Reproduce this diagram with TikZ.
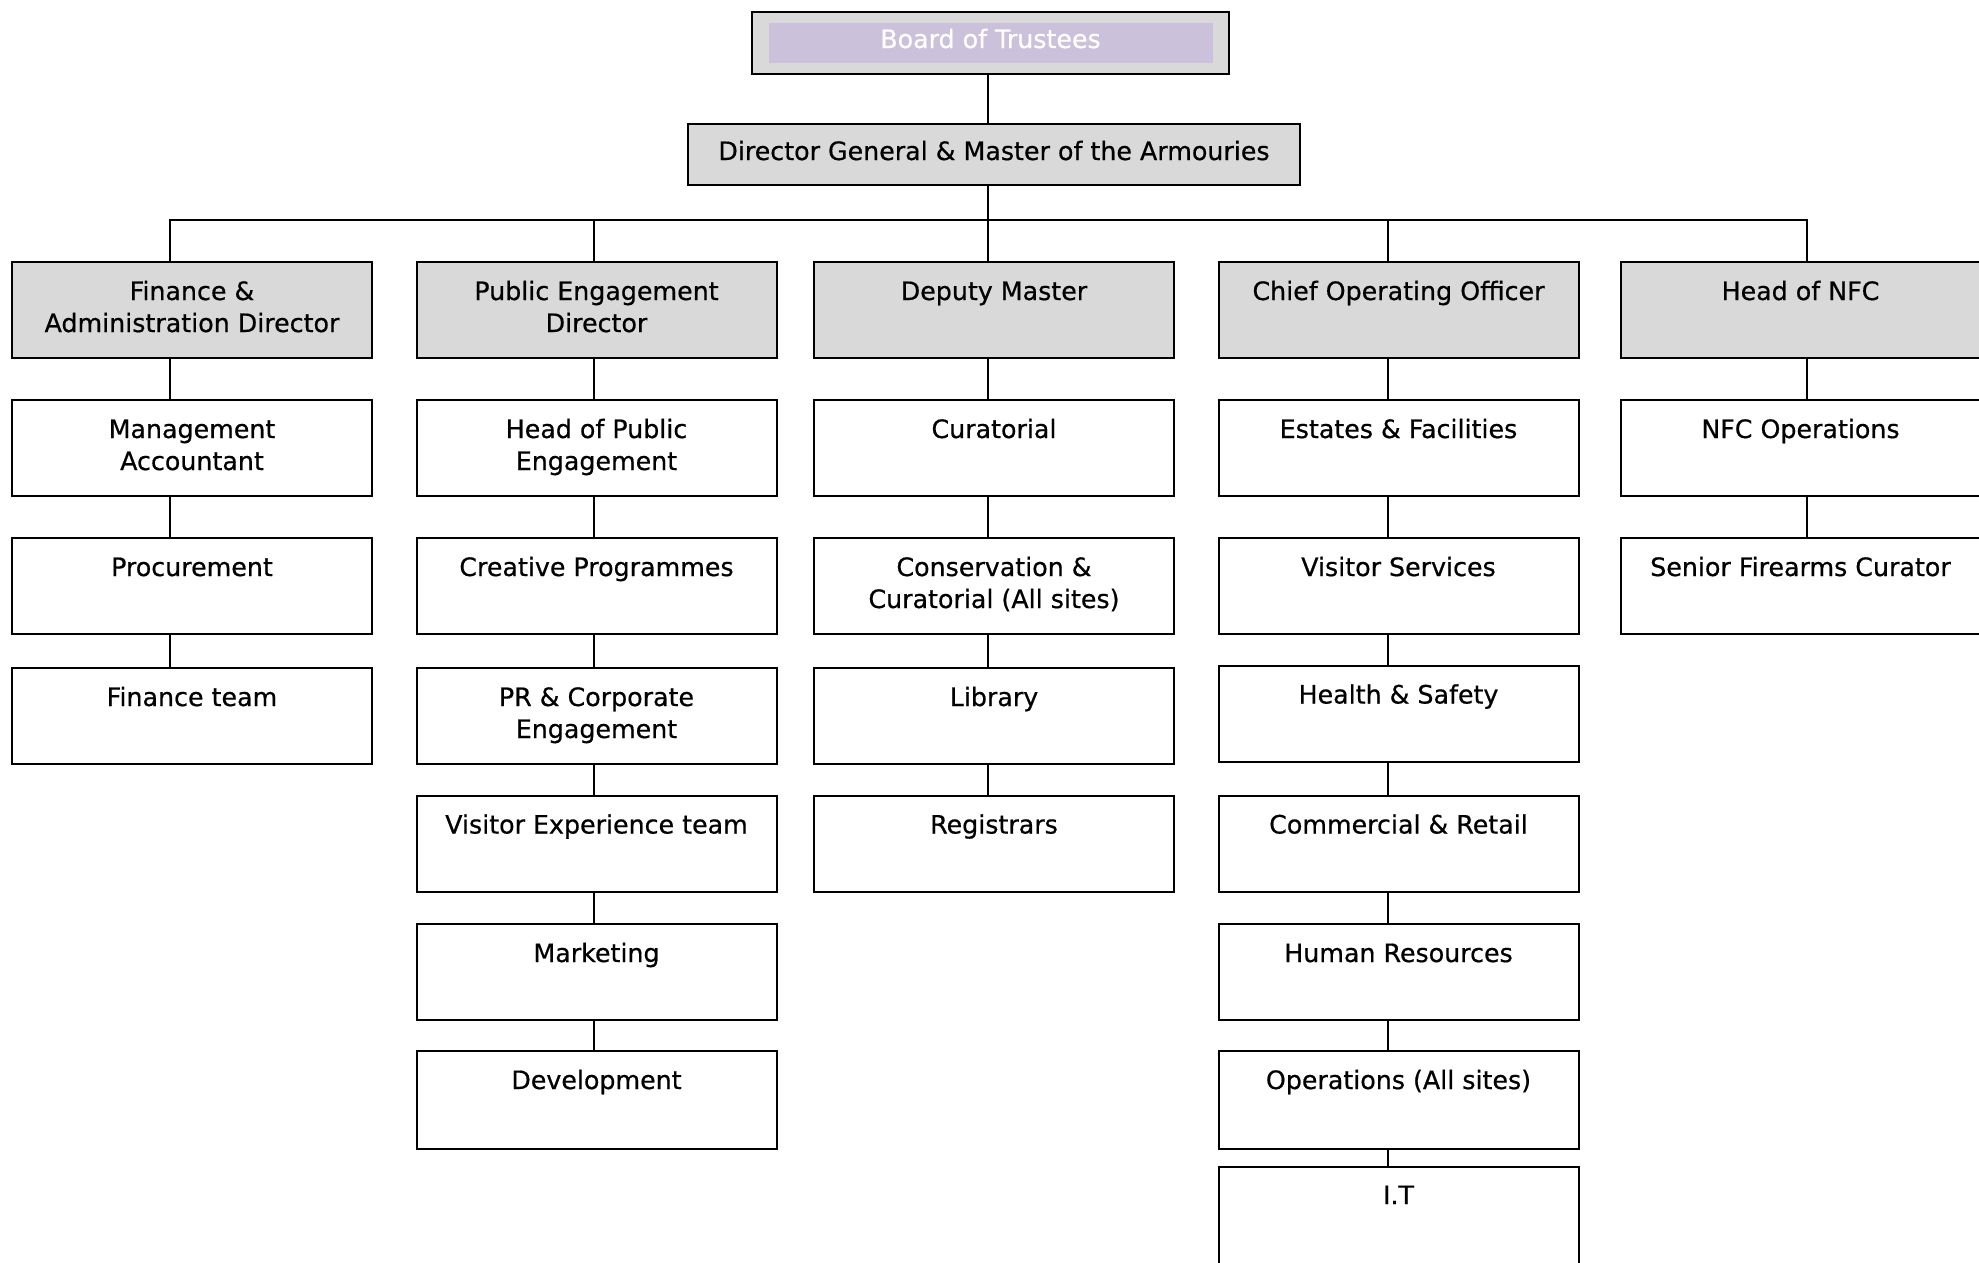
\documentclass[tikz,border=0pt]{standalone}
\usepackage{fontspec}
\setmainfont{DejaVu Sans}[UprightFeatures={FakeBold=0.6}]
\definecolor{boxgray}{HTML}{D9D9D9}
\definecolor{boardpurple}{HTML}{CCC1DA}
\newcommand\obx[3][38pt]{\parbox[c][#2][t]{360pt}{\centering\rule{0pt}{#1}#3}}
\begin{document}
\begin{tikzpicture}[x=1pt,y=-1pt,
  orgbox/.style={draw=black, line width=2pt, fill=white, rectangle, inner sep=0pt},
  headbox/.style={orgbox, fill=boxgray},
  link/.style={draw=black, line width=1.8pt},
  font=\fontsize{25.3pt}{32pt}\selectfont]
\useasboundingbox (0,0) rectangle (1979,1262);
\fill[white] (0,0) rectangle (1979,1262);

% top
\node[headbox, inner xsep=16.5pt, inner ysep=11pt] (board) at (990.5,43)
  {\setlength\fboxsep{0pt}\colorbox{boardpurple}{\parbox[c][40pt][t]{444pt}{\centering\color{white}\rule{0pt}{25pt}Board of Trustees}}};
\node[headbox] (dg) at (994,154.5)
  {\parbox[c][61pt][t]{612pt}{\centering\rule{0pt}{36pt}Director General \& Master of the Armouries}};

% heads
\node[headbox] (h1) at (192,310) {\obx{96pt}{Finance \&\\Administration Director}};
\node[headbox] (h2) at (596.5,310) {\obx{96pt}{Public Engagement\\Director}};
\node[headbox] (h3) at (994,310) {\obx{96pt}{Deputy Master}};
\node[headbox] (h4) at (1398.5,310) {\obx{96pt}{Chief Operating Officer}};
\node[headbox] (h5) at (1800.5,310) {\obx{96pt}{Head of NFC}};

% column 1
\node[orgbox] (a1) at (192,448) {\obx{96pt}{Management\\Accountant}};
\node[orgbox] (a2) at (192,586) {\obx{96pt}{Procurement}};
\node[orgbox] (a3) at (192,716) {\obx{96pt}{Finance team}};

% column 2
\node[orgbox] (b1) at (596.5,448) {\obx{96pt}{Head of Public\\Engagement}};
\node[orgbox] (b2) at (596.5,586) {\obx{96pt}{Creative Programmes}};
\node[orgbox] (b3) at (596.5,716) {\obx{96pt}{PR \& Corporate\\Engagement}};
\node[orgbox] (b4) at (596.5,843.5) {\obx{96pt}{Visitor Experience team}};
\node[orgbox] (b5) at (596.5,972) {\obx{96pt}{Marketing}};
\node[orgbox] (b6) at (596.5,1100) {\obx{98pt}{Development}};

% column 3
\node[orgbox] (c1) at (994,448) {\obx{96pt}{Curatorial}};
\node[orgbox] (c2) at (994,586) {\obx{96pt}{Conservation \&\\Curatorial (All sites)}};
\node[orgbox] (c3) at (994,716) {\obx{96pt}{Library}};
\node[orgbox] (c4) at (994,843.5) {\obx{96pt}{Registrars}};

% column 4
\node[orgbox] (d1) at (1398.5,448) {\obx{96pt}{Estates \& Facilities}};
\node[orgbox] (d2) at (1398.5,586) {\obx{96pt}{Visitor Services}};
\node[orgbox] (d3) at (1398.5,713.5) {\obx{96pt}{Health \& Safety}};
\node[orgbox] (d4) at (1398.5,843.5) {\obx{96pt}{Commercial \& Retail}};
\node[orgbox] (d5) at (1398.5,972) {\obx{96pt}{Human Resources}};
\node[orgbox] (d6) at (1398.5,1100) {\obx{98pt}{Operations (All sites)}};
\node[orgbox] (d7) at (1398.5,1227) {\obx[37pt]{120pt}{I.T}};

% column 5
\node[orgbox] (e1) at (1800.5,448) {\obx{96pt}{NFC Operations}};
\node[orgbox] (e2) at (1800.5,586) {\obx{96pt}{Senior Firearms Curator}};

% connectors top
\coordinate (bus) at (988,220);
\draw[link] ([xshift=-2.5pt]board.south) -- ([xshift=-6pt]dg.north);
\draw[link] ([xshift=-6pt]dg.south) -- (bus);
\coordinate (t1) at ([xshift=-22pt]h1.north);
\coordinate (t2) at ([xshift=-2.5pt]h2.north);
\coordinate (t3) at ([xshift=-6pt]h3.north);
\coordinate (t4) at ([xshift=-10.5pt]h4.north);
\coordinate (t5) at ([xshift=6.5pt]h5.north);
\draw[link] (t1) -- (t1 |- bus) -- (t5 |- bus) -- (t5);
\draw[link] (t2 |- bus) -- (t2);
\draw[link] (t3 |- bus) -- (t3);
\draw[link] (t4 |- bus) -- (t4);

% chains
\foreach \s/\u/\v in {-22/h1/a1, -22/a1/a2, -22/a2/a3,
  -2.5/h2/b1, -2.5/b1/b2, -2.5/b2/b3, -2.5/b3/b4, -2.5/b4/b5, -2.5/b5/b6,
  -6/h3/c1, -6/c1/c2, -6/c2/c3, -6/c3/c4,
  -10.5/h4/d1, -10.5/d1/d2, -10.5/d2/d3, -10.5/d3/d4, -10.5/d4/d5, -10.5/d5/d6, -10.5/d6/d7,
  6.5/h5/e1, 6.5/e1/e2}
  \draw[link] ([xshift=\s pt]\u.south) -- ([xshift=\s pt]\v.north);
\end{tikzpicture}
\end{document}
